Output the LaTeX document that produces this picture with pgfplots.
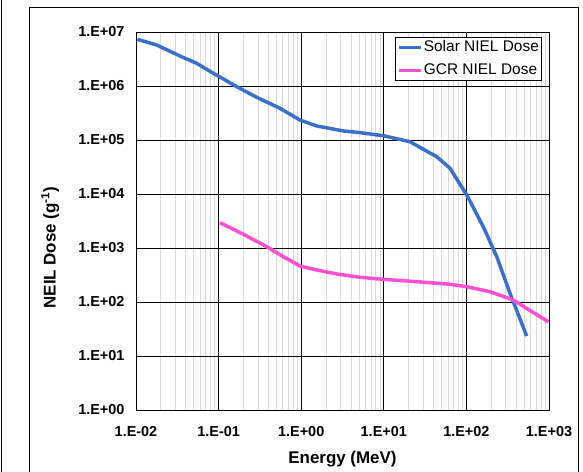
\documentclass[border=0pt]{standalone}
\usepackage{fontspec}
\setmainfont{Liberation Sans}
\usepackage{pgfplots}
\pgfplotsset{compat=1.18}
\definecolor{solarblue}{RGB}{58,112,200}
\definecolor{gcrpink}{RGB}{255,80,210}
\begin{document}
\begin{tikzpicture}[x=1bp,y=1bp]
\path[use as bounding box] (0,0) rectangle (583,-472);
\draw[line width=1bp] (1.5,0) -- (1.5,-472);
\draw[line width=1bp] (29.5,-472) -- (29.5,-7.5) -- (578.5,-7.5) -- (578.5,-472);
\begin{axis}[
  at={(136bp,-410bp)}, anchor=south west,
  scale only axis, width=413bp, height=378bp,
  xmode=log, ymode=log,
  xmin=1e-2, xmax=1e3, ymin=1, ymax=1e7,
  xtick={1e-2,1e-1,1,10,100,1000},
  xticklabels={1.E-02,1.E-01,1.E+00,1.E+01,1.E+02,1.E+03},
  ytick={1,10,100,1000,1e4,1e5,1e6,1e7},
  yticklabels={1.E+00,1.E+01,1.E+02,1.E+03,1.E+04,1.E+05,1.E+06,1.E+07},
  major tick length=0pt, minor tick length=0pt,
  xmajorgrids, xminorgrids, ymajorgrids, yminorgrids=false,
  major grid style={black, line width=0.8bp},
  minor grid style={gray!30, line width=0.8bp},
  axis line style={black, line width=0.8bp},
  ticklabel style={font=\fontsize{14.5}{16}\selectfont\bfseries},
  xticklabel style={yshift=-12.5bp},
  yticklabel style={xshift=-8bp},
  xlabel={Energy (MeV)},
  ylabel={NEIL Dose (g\textsuperscript{-1})},
  label style={font=\fontsize{17}{19}\selectfont\bfseries},
  xlabel style={at={(axis description cs:0.5,-0.13)}, anchor=center},
  ylabel style={at={(axis description cs:-0.208,0.43)}, anchor=center, rotate=0},
  legend style={at={(axis description cs:0.627,0.987)}, anchor=north west,
    draw=black, line width=0.8bp, font=\fontsize{15.5}{17}\selectfont,
    inner sep=1.5bp, row sep=6bp,
    nodes={inner sep=1.5bp, text height=11bp, text depth=3bp}},
  legend cell align=left,
  legend image code/.code={\draw[#1, line width=3.5bp] (0bp,0bp) -- (22bp,0bp);},
]
\addplot[solarblue, line width=3.5bp, line join=round] coordinates {
(0.0104,7.33e6) (0.0178,5.74e6) (0.0341,3.59e6) (0.0543,2.63e6) (0.0863,1.72e6)
(0.102,1.49e6) (0.166,9.7e5) (0.289,6.18e5) (0.553,3.87e5) (0.966,2.34e5)
(1.54,1.82e5) (3.24,1.47e5) (5.15,1.37e5) (9.87,1.2e5) (20.7,9.3e4)
(43.7,4.9e4) (63.3,3.0e4) (100.9,9.6e3) (160,2.48e3) (233,690) (337,145) (537,23.4)
};
\addlegendentry{Solar NIEL Dose}
\addplot[gcrpink, line width=3.5bp, line join=round] coordinates {
(0.104,2.94e3) (0.199,1.8e3) (0.382,1.06e3) (0.607,690) (0.966,464)
(1.54,392) (2.69,330) (5.15,287) (9.87,263) (25,238) (63.3,213) (101,192)
(193,155) (370,109) (537,76) (982,43)
};
\addlegendentry{GCR NIEL Dose}
\end{axis}
\end{tikzpicture}
\end{document}
